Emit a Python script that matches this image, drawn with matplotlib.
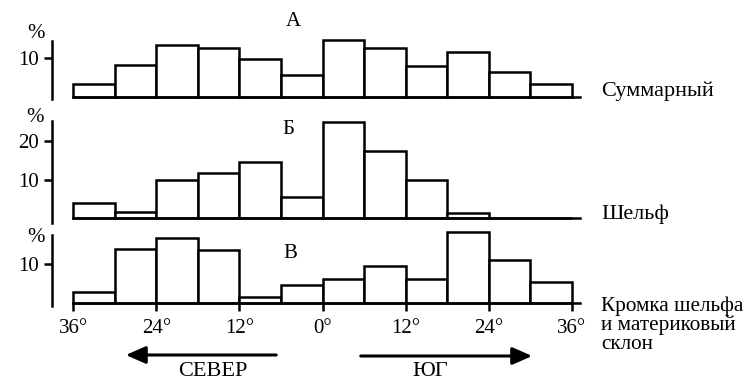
import matplotlib
matplotlib.use("Agg")
import matplotlib.pyplot as plt
import numpy as np

plt.rcParams['font.family'] = ['Liberation Serif', 'DejaVu Serif']

# bin edges: north is negative, south positive (degrees)
edges = np.arange(-36, 37, 6)
tick_pos = [-36, -24, -12, 0, 12, 24, 36]
tick_labels = ['36°', '24°', '12°', '0°', '12°', '24°', '36°']

# percentages per 6-degree bin
summary = [3.3, 8.1, 13.2, 12.4, 9.6, 5.6, 14.5, 12.6, 7.9, 11.5, 6.4, 3.3]
shelf = [4.0, 1.6, 9.9, 11.6, 14.6, 5.5, 24.8, 17.3, 9.9, 1.5, 0, 0]
slope = [3.0, 13.8, 16.7, 13.7, 1.7, 4.6, 6.2, 9.6, 6.2, 18.3, 11.1, 5.4]

W, H = 753, 381
fig = plt.figure(figsize=(W / 100, H / 100), dpi=100)

# pixel geometry of the original drawing
x36n, x36s = 73.3, 571.7
dpp = 72 / (x36s - x36n)          # degrees per pixel
xlim = (-36 - x36n * dpp, 36 + (W - x36s) * dpp)
axis_x = -36 - (x36n - 52) * dpp  # where the vertical axis stands
base_end = 36 + (580 - x36s) * dpp

lw = 1.8

panels = [
    # values, letter, right label, zero px, px per %, axis top px, axis bottom px, yticks
    (summary, 'А', 'Суммарный', 96.7, 3.9, 41, 99, [10]),
    (shelf, 'Б', 'Шельф', 218.3, 3.865, 120.7, 223.3, [10, 20]),
    (slope, 'В', 'Кромка шельфа\nи материковый\nсклон', 303.3, 3.9, 235, 306, [10]),
]
letter_px = [(293, 21), (288, 129), (290, 253)]
pct_px = [(36, 33), (35, 117), (36, 238)]
label_px = [(601, 91), (601, 214), (601, 297)]
label_size = [16, 16, 15.3]

for i, (vals, letter, name, zero, ppu, atop, abot, yt) in enumerate(panels):
    ax = fig.add_axes([0, 0, 1, 1])
    ax.patch.set_alpha(0)
    ax.set_xlim(*xlim)
    ax.set_ylim(-(H - zero) / ppu, zero / ppu)
    ax.bar(edges[:-1], vals, width=6, align='edge', facecolor='white',
           edgecolor='black', linewidth=lw, zorder=1)

    for s in ['top', 'right']:
        ax.spines[s].set_visible(False)
    ax.spines['left'].set_position(('data', axis_x))
    ax.spines['left'].set_bounds(-(abot - zero) / ppu, (zero - atop) / ppu)
    ax.spines['left'].set_linewidth(lw)
    ax.spines['bottom'].set_position(('data', 0))
    ax.spines['bottom'].set_bounds(-36, base_end)
    ax.spines['bottom'].set_linewidth(lw)

    ax.set_yticks(yt)
    ax.set_yticklabels([str(v) for v in yt])
    ax.tick_params(axis='y', direction='out', length=6, width=lw,
                   pad=3.5, labelsize=15)
    if i == 2:
        ax.set_xticks(tick_pos)
        ax.set_xticklabels(tick_labels)
        ax.tick_params(axis='x', direction='out', length=6, width=lw,
                       pad=5, labelsize=15)
    else:
        ax.set_xticks([])

    fig.text(letter_px[i][0] / W, 1 - letter_px[i][1] / H, letter,
             ha='center', va='center', fontsize=15)
    fig.text(pct_px[i][0] / W, 1 - pct_px[i][1] / H, '%',
             ha='center', va='center', fontsize=15)
    fig.text(label_px[i][0] / W, 1 - label_px[i][1] / H, name,
             ha='left', va='center' if i < 2 else 'top',
             fontsize=label_size[i], linespacing=0.95)

# direction arrows
fig.add_artist(matplotlib.patches.FancyArrowPatch(
    (279 / W, 1 - 355 / H), (123 / W, 1 - 355 / H),
    transform=fig.transFigure, arrowstyle='-|>,head_length=8,head_width=3.5',
    mutation_scale=1.5, linewidth=2.2, color='black'))
fig.add_artist(matplotlib.patches.FancyArrowPatch(
    (358 / W, 1 - 356 / H), (535 / W, 1 - 356 / H),
    transform=fig.transFigure, arrowstyle='-|>,head_length=8,head_width=3.5',
    mutation_scale=1.5, linewidth=2.2, color='black'))
fig.text(213 / W, 1 - 372 / H, 'СЕВЕР', ha='center', va='center', fontsize=16)
fig.text(430 / W, 1 - 372 / H, 'ЮГ', ha='center', va='center', fontsize=16)

fig.savefig('out.png', dpi=100)
